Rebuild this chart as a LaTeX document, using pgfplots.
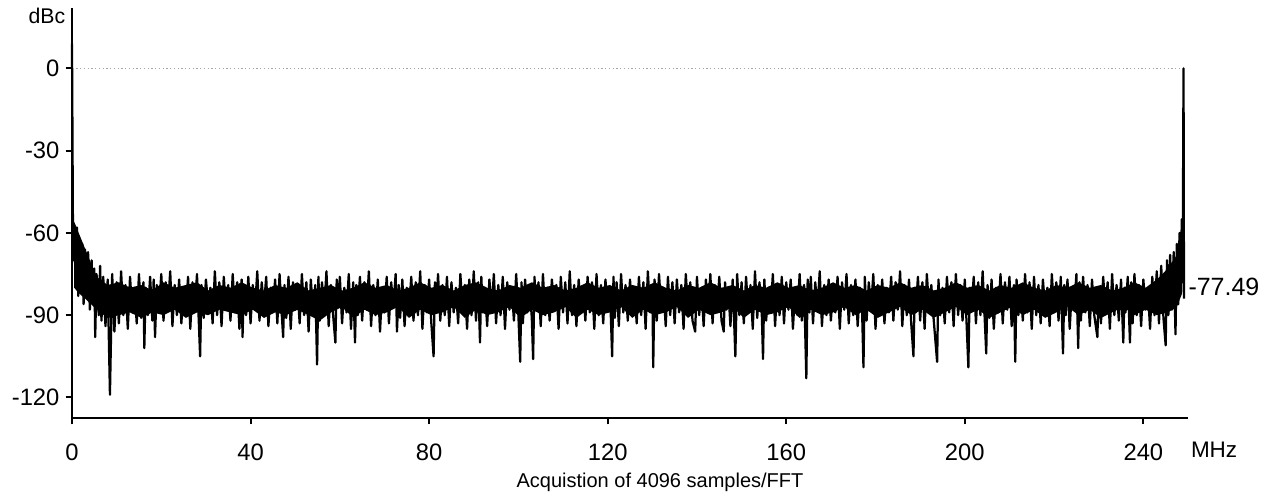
\documentclass[border=0pt]{standalone}
\usepackage{pgfplots}
\pgfplotsset{compat=1.18}
\usepackage{fontspec}
\setmainfont{Liberation Sans}
\begin{document}
\begin{tikzpicture}
\begin{axis}[
  scale only axis,
  width=446.4pt, height=164pt,
  xmin=0, xmax=250, ymin=-127.5, ymax=22,
  axis lines=left,
  axis line style={-, line width=1.1pt, black},
  xtick={0,40,80,120,160,200,240},
  xticklabels={0,40,80,120,160,200,240},
  ytick={-120,-90,-60,-30,0},
  yticklabels={-120,-90,-60,-30,0},
  tick align=outside,
  major tick length=2.5pt,
  tick style={black, line width=0.8pt},
  ticklabel style={font=\fontsize{9.5}{11}\selectfont},
  xticklabel style={yshift=-4.5pt},
  yticklabel style={xshift=1pt},
  clip=false,
]
% 0 dBc reference line
\addplot[gray!70, densely dotted, line width=0.5pt] coordinates {(1,0) (249,0)};
% dense core of the noise floor
\addplot[fill=black, draw=none] coordinates {
(0.5,-56) (1.5,-60) (3,-66) (5.5,-76) (8,-79) (10.5,-78) (13,-80) (15.5,-79) (18,-81) (20.5,-78) (23,-80) (25.5,-79) (28,-78) (30.5,-81) (33,-79) (35.5,-80) (38,-78) (40.5,-80) (43,-81) (45.5,-79) (48,-80) (50.5,-78) (53,-81) (55.5,-80) (58,-79) (60.5,-81) (63,-80) (65.5,-78) (68,-80) (70.5,-79) (73,-81) (75.5,-80) (78,-78) (80.5,-80) (83,-79) (85.5,-81) (88,-79) (90.5,-78) (93,-80) (95.5,-81) (98,-79) (100.5,-80) (103,-78) (105.5,-80) (108,-79) (110.5,-81) (113,-80) (115.5,-78) (118,-80) (120.5,-79) (123,-81) (125.5,-79) (128,-80) (130.5,-78) (133,-80) (135.5,-81) (138,-79) (140.5,-80) (143,-78) (145.5,-80) (148,-79) (150.5,-81) (153,-79) (155.5,-80) (158,-78) (160.5,-80) (163,-79) (165.5,-81) (168,-80) (170.5,-78) (173,-80) (175.5,-79) (178,-81) (180.5,-79) (183,-80) (185.5,-78) (188,-80) (190.5,-79) (193,-81) (195.5,-80) (198,-78) (200.5,-80) (203,-79) (205.5,-81) (208,-79) (210.5,-80) (213,-78) (215.5,-80) (218,-81) (220.5,-79) (223,-80) (225.5,-78) (228,-80) (230.5,-79) (233,-81) (235.5,-80) (238,-78) (240.5,-80) (243,-77) (245.5,-73) (247.5,-68) (248.7,-60)
(248.7,-82) (247.5,-87) (245.5,-89) (243,-90) (240.5,-88) (238,-90) (235.5,-87) (233,-89) (230.5,-91) (228,-88) (225.5,-90) (223,-87) (220.5,-89) (218,-91) (215.5,-88) (213,-90) (210.5,-87) (208,-89) (205.5,-91) (203,-88) (200.5,-90) (198,-87) (195.5,-89) (193,-91) (190.5,-88) (188,-90) (185.5,-87) (183,-89) (180.5,-91) (178,-88) (175.5,-90) (173,-87) (170.5,-89) (168,-90) (165.5,-88) (163,-91) (160.5,-87) (158,-89) (155.5,-90) (153,-88) (150.5,-91) (148,-87) (145.5,-89) (143,-90) (140.5,-88) (138,-91) (135.5,-87) (133,-89) (130.5,-90) (128,-88) (125.5,-91) (123,-87) (120.5,-89) (118,-90) (115.5,-88) (113,-91) (110.5,-87) (108,-89) (105.5,-90) (103,-88) (100.5,-91) (98,-87) (95.5,-89) (93,-90) (90.5,-88) (88,-91) (85.5,-87) (83,-89) (80.5,-90) (78,-88) (75.5,-91) (73,-87) (70.5,-89) (68,-90) (65.5,-88) (63,-91) (60.5,-87) (58,-89) (55.5,-92) (53,-90) (50.5,-88) (48,-90) (45.5,-89) (43,-91) (40.5,-88) (38,-90) (35.5,-89) (33,-88) (30.5,-90) (28,-89) (25.5,-91) (23,-88) (20.5,-90) (18,-89) (15.5,-91) (13,-89) (10.5,-90) (8,-91) (5.5,-88) (3,-84) (1.5,-82) (0.5,-80)
} -- cycle;
% spectrum
\addplot[black, line width=0.9pt, line join=round] coordinates {
(0,9) (0.25,-70) (0.5,-57) (0.8,-78) (1.1,-58) (1.4,-83) (1.7,-62) (2,-80) (2.3,-64) (2.6,-86) (2.9,-66) (3.2,-82) (3.6,-67) (4,-88) (4.4,-70) (4.7,-85)
(5,-73) (5.2,-98) (5.5,-75) (6,-90) (6.3,-72) (6.6,-92) (7,-76) (7.5,-94) (8,-77) (8.5,-119) (9,-75) (9.5,-96)
(10,-78) (10.5,-93) (11,-74) (11.5,-90) (12,-79) (12.5,-95) (13,-76) (13.5,-89) (14,-80) (14.5,-93)
(15,-75) (15.5,-91) (16,-78) (16.2,-102) (16.5,-80) (17,-90) (17.5,-76) (18,-92) (18.3,-77) (18.6,-98) (19,-79) (19.5,-88)
(20,-75) (20.5,-92) (21,-78) (21.5,-87) (22,-74) (22.5,-94) (23,-79) (23.5,-90) (24,-77) (24.5,-93)
(25,-80) (25.5,-89) (26,-76) (26.5,-95) (27,-78) (27.5,-88) (28,-75) (28.7,-105) (29,-79) (29.5,-91)
(30,-77) (30.5,-86) (31,-80) (31.5,-93) (32,-74) (32.5,-90) (33,-78) (33.5,-94) (34,-76) (34.5,-88)
(35,-79) (35.5,-92) (36,-75) (36.5,-89) (37,-78) (37.5,-95) (38,-77) (38.2,-98) (38.5,-80) (39,-90) (39.5,-76)
(40,-93) (40.5,-79) (41,-88) (41.5,-74) (42,-92) (42.5,-78) (43,-87) (43.5,-76) (44,-94) (44.5,-80)
(45,-89) (45.5,-77) (46,-93) (46.5,-75) (47,-90) (47.3,-98) (47.6,-79) (48,-91) (48.5,-76) (49,-95) (49.5,-78)
(50,-88) (50.5,-80) (51,-93) (51.5,-75) (52,-90) (52.5,-78) (53,-96) (53.5,-77) (54,-89) (54.5,-79) (54.9,-108)
(55.2,-76) (55.5,-92) (56,-78) (56.5,-88) (57,-74) (57.5,-94) (58,-79) (58.5,-90) (59,-100) (59.3,-77) (59.6,-87)
(60,-76) (60.5,-93) (61,-80) (61.5,-89) (62,-75) (62.5,-95) (63,-78) (63.4,-100) (63.7,-79) (64,-90) (64.5,-76)
(65,-92) (65.5,-78) (66,-88) (66.5,-74) (67,-94) (67.5,-79) (68,-90) (68.5,-77) (69,-96) (69.5,-80)
(70,-89) (70.5,-76) (71,-93) (71.5,-78) (72,-87) (72.5,-75) (72.8,-96) (73.2,-79) (73.5,-91) (74,-77) (74.5,-94)
(75,-80) (75.5,-88) (76,-76) (76.5,-92) (77,-78) (77.5,-90) (78,-74) (78.5,-95) (79,-79) (79.5,-89)
(80,-77) (80.5,-93) (81,-105) (81.3,-78) (81.6,-88) (82,-75) (82.5,-92) (83,-79) (83.5,-90) (84,-76) (84.5,-94)
(85,-78) (85.5,-89) (86,-80) (86.5,-93) (87,-75) (87.5,-88) (88,-79) (88.5,-95) (89,-77) (89.5,-90)
(90,-74) (90.5,-92) (91,-78) (91.4,-100) (91.7,-76) (92,-89) (92.5,-80) (93,-94) (93.5,-77) (94,-88) (94.5,-75)
(95,-93) (95.5,-79) (96,-90) (96.5,-76) (97,-95) (97.5,-78) (98,-88) (98.5,-80) (99,-92) (99.5,-75)
(100,-90) (100.4,-107) (100.7,-78) (101,-93) (101.5,-77) (102,-89) (102.5,-79) (103,-91) (103.3,-106) (103.6,-76) (104,-88) (104.5,-78)
(105,-94) (105.5,-75) (106,-90) (106.5,-80) (107,-92) (107.5,-77) (108,-87) (108.5,-79) (109,-95) (109.5,-76)
(110,-89) (110.5,-78) (111,-93) (111.5,-74) (112,-90) (112.5,-79) (113,-94) (113.5,-77) (114,-88) (114.5,-80)
(115,-92) (115.5,-76) (116,-89) (116.5,-78) (117,-95) (117.5,-75) (118,-90) (118.5,-79) (119,-93) (119.5,-77)
(120,-88) (120.5,-80) (121,-105) (121.3,-76) (121.6,-91) (122,-78) (122.5,-94) (123,-75) (123.5,-89) (124,-79) (124.5,-92)
(125,-77) (125.5,-88) (126,-80) (126.5,-93) (127,-76) (127.5,-90) (128,-78) (128.5,-95) (129,-74) (129.5,-89)
(130,-79) (130.2,-109) (130.5,-77) (131,-92) (131.5,-75) (132,-88) (132.5,-80) (133,-94) (133.5,-76) (134,-90) (134.5,-78)
(135,-93) (135.5,-77) (136,-89) (136.5,-79) (137,-95) (137.5,-75) (138,-88) (138.5,-78) (139,-92) (139.6,-96)
(140,-76) (140.5,-90) (141,-80) (141.5,-94) (142,-77) (142.5,-88) (143,-75) (143.5,-93) (144,-79) (144.5,-89)
(145,-76) (145.5,-92) (146,-96) (146.3,-78) (146.6,-88) (147,-80) (147.5,-94) (148,-77) (148.6,-105) (149,-75) (149.5,-90)
(150,-78) (150.5,-93) (151,-76) (151.5,-89) (152,-79) (152.5,-95) (153,-74) (153.5,-91) (154,-78) (154.5,-88) (154.8,-106)
(155.1,-77) (155.5,-92) (156,-80) (156.5,-89) (157,-75) (157.5,-94) (158,-79) (158.5,-90) (159,-76) (159.5,-93)
(160,-78) (160.5,-88) (161,-77) (161.5,-95) (162,-80) (162.5,-90) (163,-75) (163.5,-92) (164,-79) (164.5,-113)
(164.8,-77) (165.2,-89) (165.5,-76) (166,-93) (166.5,-78) (167,-88) (167.5,-74) (168,-94) (168.5,-79) (169,-90) (169.5,-77)
(170,-92) (170.5,-80) (171,-89) (171.5,-76) (172,-95) (172.5,-78) (173,-88) (173.5,-75) (174,-93) (174.5,-79)
(175,-90) (175.5,-77) (176,-94) (176.5,-80) (177,-89) (177.3,-109) (177.6,-76) (178,-92) (178.5,-78) (179,-88) (179.5,-75)
(180,-95) (180.5,-79) (181,-90) (181.5,-77) (182,-93) (182.5,-80) (183,-89) (183.5,-76) (184,-92) (184.5,-78)
(185,-88) (185.5,-74) (186,-94) (186.5,-79) (187,-90) (187.5,-77) (188,-93) (188.5,-105) (188.8,-80) (189,-89) (189.5,-76)
(190,-92) (190.5,-78) (191,-95) (191.5,-75) (192,-88) (192.5,-79) (193,-91) (193.8,-107) (194.1,-77) (194.5,-90)
(195,-80) (195.5,-93) (196,-76) (196.5,-89) (197,-78) (197.5,-94) (198,-75) (198.5,-90) (199,-79) (199.5,-92)
(200,-77) (200.8,-109) (201.1,-80) (201.5,-88) (202,-76) (202.5,-93) (203,-78) (203.5,-90) (204,-74) (204.8,-104)
(205.1,-79) (205.5,-91) (206,-77) (206.5,-95) (207,-80) (207.5,-89) (208,-75) (208.5,-93) (209,-78) (209.5,-88)
(210,-76) (210.5,-94) (211,-79) (211.3,-107) (211.6,-77) (212,-90) (212.5,-80) (213,-92) (213.5,-75) (214,-89) (214.5,-78)
(215,-95) (215.5,-76) (216,-90) (216.5,-79) (217,-93) (217.5,-77) (218,-88) (218.5,-80) (219,-94) (219.5,-75)
(220,-89) (220.5,-78) (221,-92) (221.5,-76) (222,-104) (222.3,-79) (222.6,-90) (223,-77) (223.5,-95) (224,-80) (224.5,-88)
(225,-75) (225.4,-102) (225.7,-78) (226,-92) (226.5,-76) (227,-89) (227.5,-79) (228,-94) (228.5,-77) (229,-90) (229.7,-98)
(230,-80) (230.5,-93) (231,-76) (231.5,-88) (232,-78) (232.5,-95) (233,-75) (233.5,-90) (234,-79) (234.5,-92)
(235,-77) (235.5,-100) (235.8,-80) (236,-89) (236.5,-76) (237,-100) (237.3,-78) (237.6,-93) (238,-75) (238.5,-90) (239,-79) (239.5,-94)
(240,-77) (240.5,-88) (241,-80) (241.5,-95) (242,-76) (242.5,-90) (243,-74) (243.5,-93) (244,-72) (244.5,-91)
(245,-101) (245.3,-70) (245.6,-90) (246,-68) (246.4,-88) (246.8,-67) (247.2,-97) (247.5,-64) (247.8,-86) (248.1,-60) (248.4,-82) (248.6,-55) (248.8,-78) (249,0) (249.1,-84)
};
\node[anchor=east, inner sep=0pt, font=\fontsize{8.5}{10}\selectfont] at ([xshift=-2.5pt,yshift=-3pt]rel axis cs:0,1) {dBc};
\node[anchor=west, inner sep=0pt, font=\fontsize{9}{11}\selectfont] at ([xshift=1pt,yshift=-12.8pt]rel axis cs:1,0) {MHz};
\node[anchor=west, inner sep=0pt, font=\fontsize{10}{12}\selectfont] at ([yshift=-2.6pt]axis cs:250,-77.49) {-77.49};
\end{axis}
\node[font=\fontsize{8}{10}\selectfont] at (235.2pt,-25.6pt) {Acquistion of 4096 samples/FFT};
\pgfresetboundingbox
\path (-28.8pt,-31.6pt) rectangle (480.8pt,167.2pt);
\end{tikzpicture}
\end{document}
